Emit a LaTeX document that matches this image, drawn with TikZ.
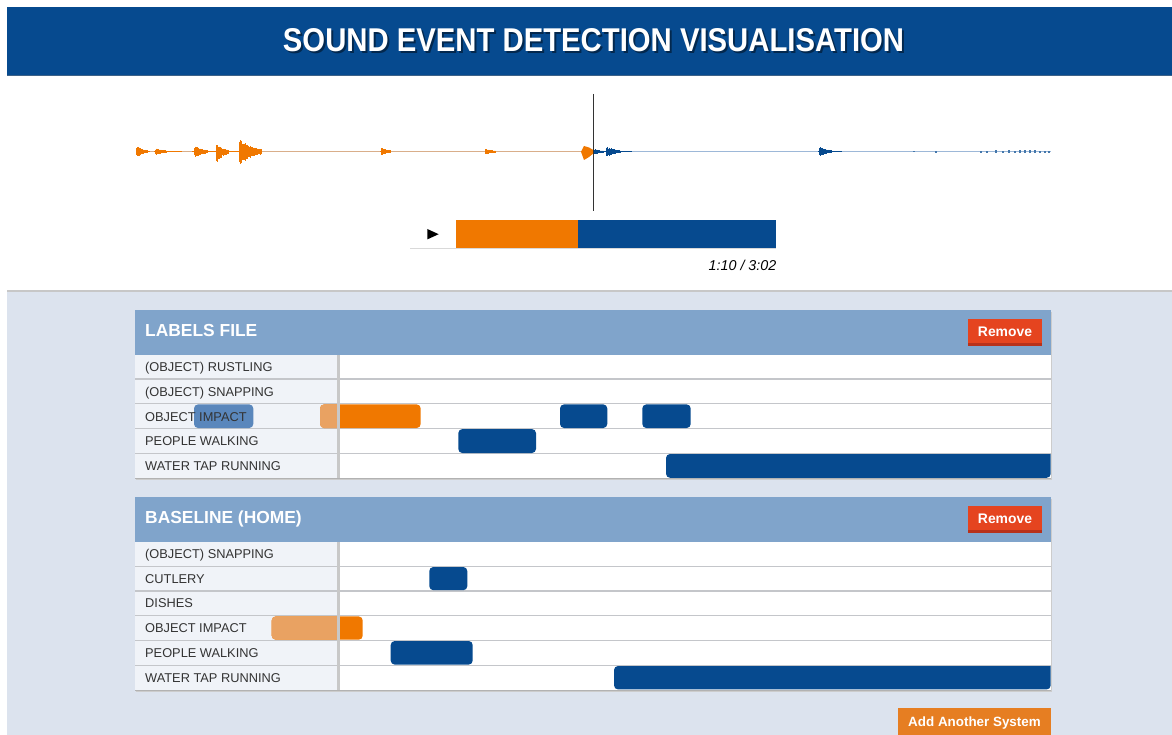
\documentclass[tikz,border=0pt]{standalone}
\usepackage{fontspec}
\setmainfont{Liberation Sans}
\usepackage{graphicx}
\definecolor{hdrblue}{HTML}{064A8F}
\definecolor{wforange}{HTML}{F07800}
\definecolor{wfblue}{HTML}{064A8F}
\definecolor{wforangeline}{HTML}{D9AE8A}
\definecolor{wfblueline}{HTML}{9DB8D8}
\definecolor{pagebg}{HTML}{DCE3EE}
\definecolor{panelhdr}{HTML}{80A4CB}
\definecolor{labelbg}{HTML}{F0F3F8}
\definecolor{rowsep}{HTML}{C4C6CA}
\definecolor{colsep}{HTML}{C8C8C8}
\definecolor{removered}{HTML}{E5441F}
\definecolor{removedark}{HTML}{B8311A}
\definecolor{addorange}{HTML}{E67E22}
\definecolor{lightorange}{HTML}{E9A262}
\definecolor{tipblue}{HTML}{5A87BC}
\definecolor{labeltext}{HTML}{333333}
% burst: x, width, up, down, colour
\newcommand{\wfburst}[5]{%
  \foreach \i in {0,0.5,...,#2} {%
    \pgfmathsetmacro{\env}{1.3*(1-exp(-2.5*\i))*exp(-2.0*\i/#2)*(0.6+0.4*rnd)}%
    \draw[#5, line width=0.75pt] ({#1+\i},{151.7-#3*\env-0.7}) -- ({#1+\i},{151.7+#4*\env+0.7});
  }}
\tikzset{
 evblue/.style={fill=wfblue, rounded corners=4pt},
 evorange/.style={fill=wforange, rounded corners=4pt},
 rowlabel/.style={anchor=base west, inner sep=0pt, text=labeltext, font=\fontsize{12.8}{14}\selectfont},
 paneltitle/.style={anchor=base west, inner sep=0pt, text=white, font=\bfseries\fontsize{17.4}{20}\selectfont},
 btntext/.style={anchor=base, inner sep=0pt, text=white, font=\bfseries\fontsize{13.9}{16}\selectfont},
 rowline/.style={draw=rowsep, line width=1.2pt},
}
\begin{document}
\begin{tikzpicture}[x=1pt,y=-1pt]
\pgfmathsetseed{7}
\useasboundingbox (0,0) rectangle (1172,735);
\fill[white] (0,0) rectangle (1172,735);
% header
\fill[hdrblue] (7,7) rectangle (1172,75);
\draw[line width=1pt, draw=hdrblue!55!gray] (7,75.5) -- (1172,75.5);
\node[inner sep=0pt, text=black, opacity=0.45] (titleshadow) at (595.5,42.5) {\resizebox{621pt}{23pt}{\bfseries SOUND EVENT DETECTION VISUALISATION}};
\node[inner sep=0pt, text=white] (title) at (593.5,40.5) {\resizebox{621pt}{23pt}{\bfseries SOUND EVENT DETECTION VISUALISATION}};
% page background
\fill[pagebg] (7,291) rectangle (1172,735);
\draw[line width=1.2pt, draw=black!22] (7,291) -- (1172,291);
% waveform
\draw[wforangeline, line width=1.6pt] (136,151.7) -- (593.3,151.7);
\draw[wfblueline, line width=1.6pt] (593.3,151.7) -- (1050.5,151.7);
\draw[wforange, line width=1.5pt] (136,151.7) -- (150,151.7) (154,151.7) -- (182,151.7) (192,151.7) -- (262,151.7);
\wfburst{136}{11}{5}{5}{wforange}
\wfburst{155}{11}{2.5}{2.5}{wforange}
\wfburst{194}{13}{5}{5}{wforange}
\wfburst{215.5}{13}{6.5}{10}{wforange}
\wfburst{239}{22}{11}{12}{wforange}
\wfburst{380.5}{10}{3.5}{3.5}{wforange}
\wfburst{485}{10}{2}{2}{wforange}
\fill[wforange] (581,151.7) -- (584,146) -- (589,147.5) -- (593.3,150) -- (593.3,153.5) -- (589,157) -- (584,160) -- cycle;
\draw[wfblue, line width=1.5pt] (593.3,151.7) -- (632,151.7) (818,151.7) -- (842,151.7);
\wfburst{594}{9}{2}{2}{wfblue}
\wfburst{606}{14}{4}{4}{wfblue}
\wfburst{819}{12}{4}{4}{wfblue}
\foreach \xx/\hh in {913/0.8,935/1,980/1.1,986/0.9,995/1.2,1002/1,1008/1.4,1014/1.1,1019/1.6,1024/1.3,1029/1.2,1034/1.4,1039/1,1044/1.1,1048/0.9}
  \fill[wfblue!75] (\xx,{151.7-\hh}) rectangle ({\xx+2},{151.7+\hh});
\draw[black!80, line width=1.1pt] (593.3,94) -- (593.3,210.7);
% player
\fill[black!15] (410,221) rectangle (776,249);
\fill[white] (410,220) rectangle (455.7,247.7);
\fill[wforange] (455.7,220) rectangle (578.3,247.7);
\fill[wfblue] (578.3,220) rectangle (776,247.7);
\fill[black] (427.3,229) -- (438.7,234.2) -- (427.3,239.4) -- cycle;
\node[anchor=base east, inner sep=0pt, text=black, font=\itshape\fontsize{14.3}{16}\selectfont] (time) at (776.5,270) {1:10 / 3:02};
% ===== panel 1 =====
\fill[black!20] (136,311.5) rectangle (1052,480);
\fill[panelhdr] (135,310) rectangle (1050.7,355);
\fill[labelbg] (135,355) rectangle (337,478.3);
\fill[white] (340,355) rectangle (1050.7,478.3);
\foreach \yy in {379,403.7,428.3,453.3} \draw[rowline] (135,\yy) -- (1050.7,\yy);
\draw[draw=black!30, line width=1pt] (135,478.6) -- (1050.7,478.6);
\node[paneltitle] (p1title) at (145,336) {LABELS FILE};
\fill[removered] (968.3,319.3) rectangle (1041.7,345.7);
\fill[removedark] (968.3,343.2) rectangle (1041.7,345.7);
\node[btntext] (p1remove) at (1005,336.7) {Remove};
\fill[tipblue, rounded corners=4pt] (194,404.4) rectangle (253.3,428);
\node[rowlabel] (p1l1) at (145,371.6) {(OBJECT) RUSTLING};
\node[rowlabel] (p1l2) at (145,396.2) {(OBJECT) SNAPPING};
\node[rowlabel] (p1l3) at (145,421) {OBJECT IMPACT};
\node[rowlabel] (p1l4) at (145,445.7) {PEOPLE WALKING};
\node[rowlabel] (p1l5) at (145,470.6) {WATER TAP RUNNING};
\fill[evorange] (320,404.4) rectangle (420.7,428);
\begin{scope}
\clip (300,400) rectangle (338.5,432);
\fill[lightorange, rounded corners=4pt] (320,404.4) rectangle (420.7,428);
\end{scope}
\fill[evblue] (560,404.4) rectangle (607.3,428);
\fill[evblue] (642.3,404.4) rectangle (690.7,428);
\fill[evblue] (458.3,429.1) rectangle (536,453);
\fill[wfblue] (666,454) [rounded corners=4pt] -- (666,477.8) -- (1050.7,477.8) [sharp corners] -- (1050.7,454) [rounded corners=4pt] -- cycle;
\fill[colsep] (337,355) rectangle (340,478.3);
% ===== panel 2 =====
\fill[black!20] (136,498.8) rectangle (1052,691.8);
\fill[panelhdr] (135,497.3) rectangle (1050.7,541.7);
\fill[labelbg] (135,541.7) rectangle (337,690);
\fill[white] (340,541.7) rectangle (1050.7,690);
\foreach \yy in {566.3,591,615.7,640.3,665.3} \draw[rowline] (135,\yy) -- (1050.7,\yy);
\draw[draw=black!30, line width=1pt] (135,690.3) -- (1050.7,690.3);
\node[paneltitle] (p2title) at (145,523.4) {BASELINE (HOME)};
\fill[removered] (968.3,506) rectangle (1041.7,532.5);
\fill[removedark] (968.3,530) rectangle (1041.7,532.5);
\node[btntext] (p2remove) at (1005,523.3) {Remove};
\node[rowlabel] (p2l1) at (145,558.6) {(OBJECT) SNAPPING};
\node[rowlabel] (p2l2) at (145,583.3) {CUTLERY};
\node[rowlabel] (p2l3) at (145,607.9) {DISHES};
\node[rowlabel] (p2l4) at (145,632.6) {OBJECT IMPACT};
\node[rowlabel] (p2l5) at (145,657.4) {PEOPLE WALKING};
\node[rowlabel] (p2l6) at (145,682.3) {WATER TAP RUNNING};
\fill[evblue] (429.3,567) rectangle (467.3,590.2);
\fill[evorange] (271.7,616.4) rectangle (362.7,639.7);
\begin{scope}
\clip (250,610) rectangle (338.5,645);
\fill[lightorange, rounded corners=4pt] (271.7,616.4) rectangle (362.7,639.7);
\end{scope}
\fill[evblue] (390.7,641) rectangle (472.7,664.6);
\fill[wfblue] (614,666) [rounded corners=4pt] -- (614,689.4) -- (1050.7,689.4) [sharp corners] -- (1050.7,666) [rounded corners=4pt] -- cycle;
\fill[colsep] (337,541.7) rectangle (340,690);
% add button
\fill[addorange] (898.3,708.3) rectangle (1050.7,735);
\node[anchor=base, inner sep=0pt, text=white, font=\bfseries\fontsize{13.4}{16}\selectfont] (addbtn) at (974.5,726) {Add Another System};
\end{tikzpicture}
\end{document}
